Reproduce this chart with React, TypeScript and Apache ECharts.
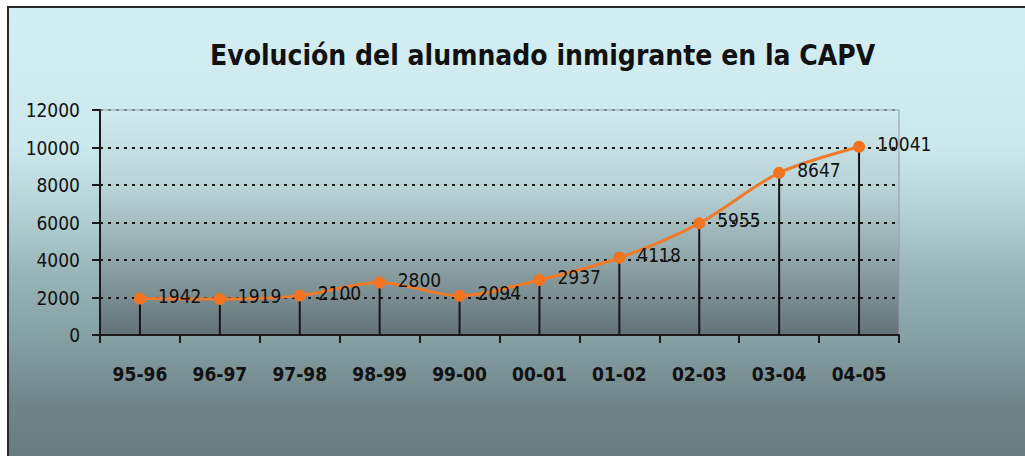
import React, { useEffect, useRef } from "react";
import * as echarts from "echarts";

const TITLE = "Evolución del alumnado inmigrante en la CAPV";
const categories = ["95-96", "96-97", "97-98", "98-99", "99-00", "00-01", "01-02", "02-03", "03-04", "04-05"];
const students = [1942, 1919, 2100, 2800, 2094, 2937, 4118, 5955, 8647, 10041];
const yTicks = { min: 0, max: 12000, interval: 2000 };

const FONT = "'DejaVu Sans Condensed', 'DejaVu Sans', sans-serif";

export default function App() {
  const ref = useRef<HTMLDivElement>(null);

  useEffect(() => {
    document.body.style.margin = "0";
    if (!ref.current) return;
    const chart = echarts.init(ref.current, null, { renderer: "svg" });
    chart.setOption({
      animation: false,
      backgroundColor: "transparent",
      title: {
        text: TITLE,
        left: 205,
        top: 36,
        textStyle: { fontFamily: FONT, fontSize: 28, fontWeight: "bold", color: "#111" },
      },
      grid: {
        left: 100,
        right: 126,
        top: 110,
        bottom: 121,
        show: true,
        borderColor: "#8d9da1",
        borderWidth: 1,
        backgroundColor: new echarts.graphic.LinearGradient(0, 0, 0, 1, [
          { offset: 0, color: "#d0eaed" },
          { offset: 0.35, color: "#b8d2d5" },
          { offset: 0.65, color: "#93a8ab" },
          { offset: 1, color: "#627276" },
        ]),
      },
      xAxis: {
        type: "category",
        data: categories,
        boundaryGap: true,
        axisLine: { show: true, lineStyle: { color: "#1a1a1a", width: 2 } },
        axisTick: { show: true, length: 8, lineStyle: { color: "#1a1a1a", width: 2 } },
        axisLabel: { fontFamily: FONT, fontSize: 19, fontWeight: "bold", color: "#111", margin: 29 },
        splitLine: { show: false },
      },
      yAxis: {
        type: "value",
        min: yTicks.min,
        max: yTicks.max,
        interval: yTicks.interval,
        axisLine: { show: true, lineStyle: { color: "#1a1a1a", width: 2 } },
        axisTick: { show: true, length: 8, lineStyle: { color: "#1a1a1a", width: 2 } },
        axisLabel: {
          fontFamily: FONT,
          fontSize: 19,
          color: "#111",
          margin: 20,
          formatter: (v: number) => String(v),
        },
        splitLine: {
          show: true,
          lineStyle: {
            color: ["#1a1a1a", "#1a1a1a", "#1a1a1a", "#1a1a1a", "#1a1a1a", "#1a1a1a", "#7f8f93"],
            width: 2,
            type: [3, 5],
          },
        },
      },
      series: [
        {
          type: "bar",
          data: students,
          barWidth: 2,
          silent: true,
          z: 1,
          itemStyle: { color: "#151515" },
        },
        {
          type: "line",
          data: students,
          smooth: 0.3,
          z: 3,
          symbol: "circle",
          symbolSize: 12,
          lineStyle: { color: "#ee7a2a", width: 3 },
          itemStyle: { color: "#f27420" },
          label: {
            show: true,
            position: "right",
            distance: 12,
            offset: [0, -3],
            fontFamily: FONT,
            fontSize: 19,
            color: "#111",
          },
        },
      ],
    });
    return () => chart.dispose();
  }, []);

  return (
    <div style={{ position: "relative", width: 1025, height: 456, background: "#ffffff", overflow: "hidden" }}>
      <div
        style={{
          position: "absolute",
          left: 7,
          top: 6,
          width: 1030,
          height: 460,
          borderLeft: "2px solid #2a2a2a",
          borderTop: "2px solid #2a2a2a",
          background:
            "linear-gradient(to bottom, #d4eff3 0%, #cbe8ec 30%, #b2d0d3 45%, #98b4b7 58%, #85a0a3 72%, #718589 86%, #677a7e 100%)",
        }}
      />
      <div ref={ref} style={{ position: "absolute", left: 0, top: 0, width: 1025, height: 456 }} />
    </div>
  );
}
